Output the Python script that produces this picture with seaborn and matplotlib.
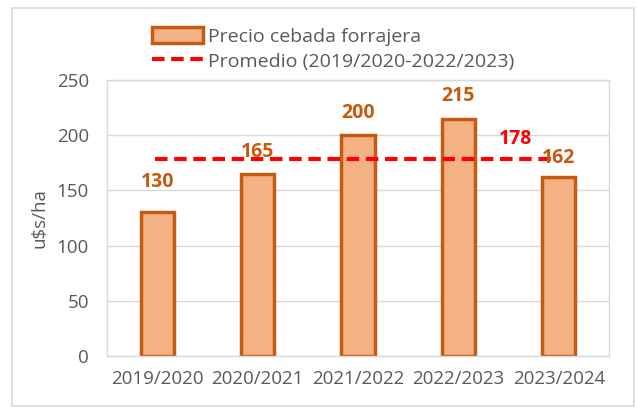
import matplotlib
matplotlib.use("Agg")
import matplotlib.pyplot as plt
import matplotlib.patches as patches
from matplotlib.lines import Line2D
import seaborn as sns
import pandas as pd

# Data
campaigns = ['2019/2020', '2020/2021', '2021/2022', '2022/2023', '2023/2024']
prices = [130, 165, 200, 215, 162]
average = 178
yticks = [0, 50, 100, 150, 200, 250]

df = pd.DataFrame({'campaign': campaigns, 'price': prices})

sns.set_theme(style='white')
plt.rcParams['font.family'] = ['Open Sans', 'DejaVu Sans']

bar_fill = '#F4B183'
bar_edge = '#C55A11'
grey_txt = '#595959'

fig = plt.figure(figsize=(6.37, 4.08), dpi=100)
ax = fig.add_axes([107 / 637, 1 - 356 / 408, 502 / 637, 276 / 408])

sns.barplot(data=df, x='campaign', y='price', ax=ax, color=bar_fill,
            edgecolor=bar_edge, linewidth=2.5, width=0.33, saturation=1)

# average line, from first to last bar centre
ax.plot([-0.02, len(campaigns) - 1.03], [average, average], color='#FF0000',
        lw=3, ls=(0, (3, 1.6)), zorder=3)
ax.annotate(str(average), (3.57, average), xytext=(0, 15), textcoords='offset points',
            ha='center', va='center', color='#FF0000', fontsize=14, fontweight='bold')

# value labels above the bars
label_offsets = [22, 16, 16, 16, 14]
for i, (v, off) in enumerate(zip(prices, label_offsets)):
    ax.annotate(str(v), (i, v), xytext=(0, off), textcoords='offset points',
                ha='center', va='center', color=bar_edge, fontsize=14, fontweight='bold')

ax.set_ylim(0, 250)
ax.set_xlim(-0.5, len(campaigns) - 0.5)
ax.set_yticks(yticks)
ax.yaxis.grid(True, color='#D9D9D9', lw=1)
ax.set_axisbelow(True)
for s in ax.spines.values():
    s.set_color('#D9D9D9')
    s.set_linewidth(1)
ax.tick_params(axis='both', colors=grey_txt, labelsize=13.5, length=0)
ax.tick_params(axis='y', pad=13)
ax.tick_params(axis='x', pad=10)
ax.set_xlabel('')
ax.set_ylabel('u\\$s/ha', color=grey_txt, fontsize=13.5, labelpad=6)

# legend at the top
handles = [patches.Patch(facecolor=bar_fill, edgecolor=bar_edge, linewidth=2.5),
           Line2D([0], [0], color='#FF0000', lw=3, ls=(0, (3, 1.6)))]
fig.legend(handles, ['Precio cebada forrajera', 'Promedio (2019/2020-2022/2023)'],
           loc='center left', bbox_to_anchor=(152 / 637, 1 - 49 / 408), frameon=False,
           fontsize=14, labelcolor=grey_txt, handlelength=2.6, handleheight=0.9,
           handletextpad=0.3, labelspacing=0.3, borderaxespad=0, borderpad=0)

# outer chart border
fig.patches.append(patches.Rectangle((12 / 637, 2 / 408), 622 / 637, 398 / 408,
                                     transform=fig.transFigure, fill=False,
                                     edgecolor='#D9D9D9', lw=1.2))

fig.savefig('out.png', dpi=100)
